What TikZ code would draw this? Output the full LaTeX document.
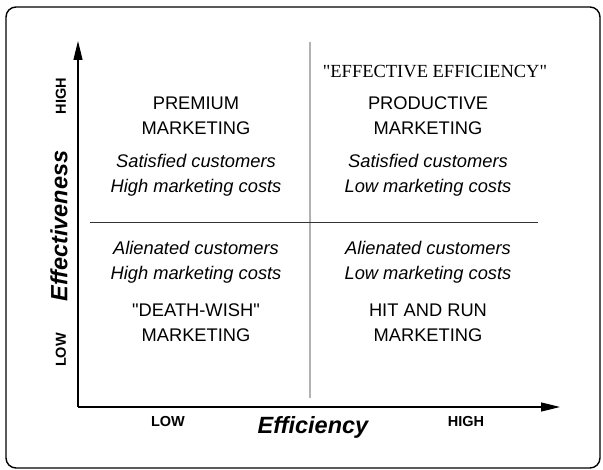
\documentclass[tikz,border=0pt]{standalone}
\usepackage{fontspec}
\setmainfont{Liberation Sans}
\newfontfamily\serifquote{Liberation Serif}
\usetikzlibrary{arrows.meta}
\tikzset{
  cell/.style={anchor=base, align=center, inner sep=0pt, font=\fontsize{18.3}{25}\selectfont},
  cellnote/.style={cell, font=\fontsize{18.3}{25}\selectfont\itshape},
  scale label/.style={inner sep=0pt, font=\fontsize{14.5}{16}\selectfont\bfseries},
  axis title/.style={inner sep=0pt, font=\fontsize{23.5}{26}\selectfont\bfseries\itshape},
  axis/.style={line width=1.2pt, -{Triangle[length=19pt,width=9pt]}}
}
\begin{document}
\begin{tikzpicture}[x=1pt,y=-1pt]
  \useasboundingbox (0,0) rectangle (603,470);
  \draw[line width=1.4pt, rounded corners=10pt] (6,7) rectangle (600,468);

  % axes
  \coordinate (origin) at (78,407);
  \coordinate (ytip) at (78,41);
  \coordinate (xtip) at (560,407);
  \draw[axis] (origin) -- (ytip);
  \draw[axis] (origin) -- (xtip);

  % quadrant dividers
  \coordinate (vtop) at (310,42);
  \coordinate (vbot) at (310,398);
  \coordinate (hleft) at (90,222);
  \coordinate (hright) at (538,222);
  \draw[gray!60, line width=1.3pt] (vtop) -- (vbot);
  \draw[black!80, line width=0.9pt] (hleft) -- (hright);

  % (base = last line of each block)
  % high effectiveness, low efficiency
  \node[cell] (premium) at (196,135) {PREMIUM\\MARKETING};
  \node[cellnote] (premiumnote) at (196,193) {Satisfied customers\\High marketing costs};

  % high effectiveness, high efficiency
  \node[anchor=base, inner sep=0pt, font=\fontsize{18.5}{20}\selectfont\serifquote] (effeff) at (435,78) {"EFFECTIVE EFFICIENCY"};
  \node[cell] (productive) at (428,135) {PRODUCTIVE\\MARKETING};
  \node[cellnote] (productivenote) at (428,193) {Satisfied customers\\Low marketing costs};

  % low effectiveness, low efficiency
  \node[cellnote] (deathnote) at (196,280) {Alienated customers\\High marketing costs};
  \node[cell] (deathwish) at (196,342) {\textquotedbl DEATH-WISH\textquotedbl\\MARKETING};

  % low effectiveness, high efficiency
  \node[cellnote] (hitrunnote) at (428,280) {Alienated customers\\Low marketing costs};
  \node[cell] (hitrun) at (428,342) {HIT AND RUN\\MARKETING};

  % axis labels
  \node[scale label, rotate=90] (yhigh) at (61,96) {HIGH};
  \node[scale label, rotate=90] (ylow) at (61,350) {LOW};
  \node[axis title, rotate=90] (ytitle) at (59,226) {Effectiveness};
  \node[scale label] (xlow) at (168,422) {LOW};
  \node[scale label] (xhigh) at (466,422) {HIGH};
  \node[axis title] (xtitle) at (313,427) {Efficiency};
\end{tikzpicture}
\end{document}
